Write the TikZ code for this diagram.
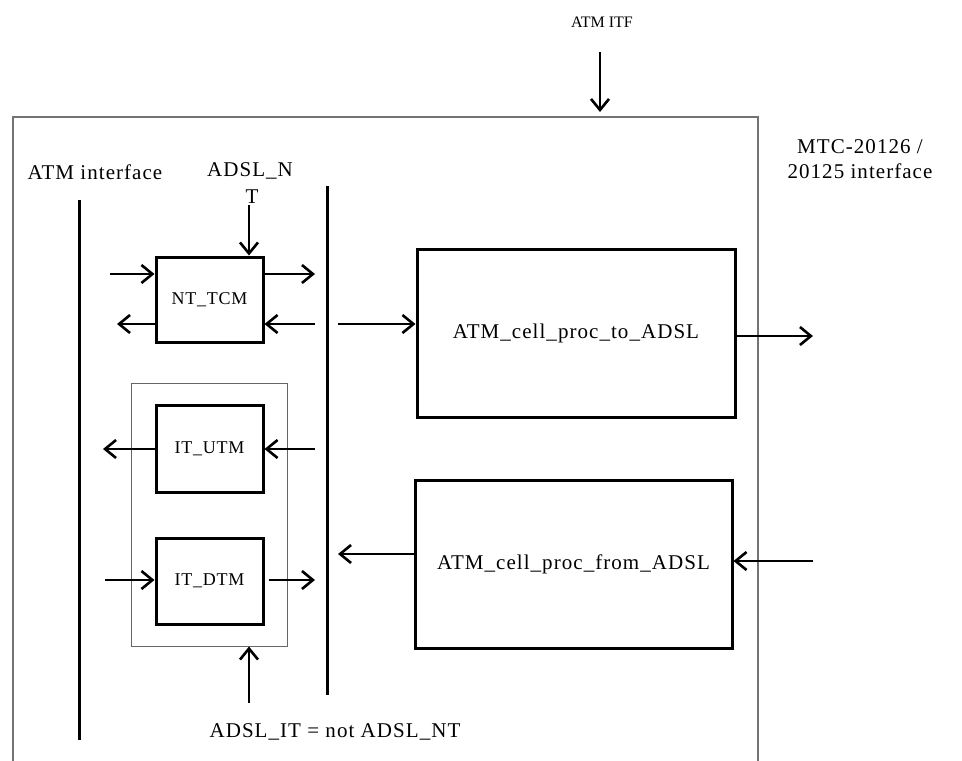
\documentclass[tikz,border=0pt]{standalone}
\usepackage{fontspec}
\setmainfont{Liberation Serif}
\newfontfamily\widefont[LetterSpace=5]{Liberation Serif}
\newfontfamily\boxfont[LetterSpace=4]{Liberation Serif}
\usetikzlibrary{arrows.meta,calc}
\begin{document}
\begin{tikzpicture}[x=1pt,y=-1pt,
  lbl/.style={font=\widefont\fontsize{21}{25}\selectfont, inner sep=0pt},
  blk/.style={draw, line width=3pt, inner sep=0pt, font=\boxfont\fontsize{18}{20}\selectfont},
  bigblk/.style={draw, line width=3pt, inner sep=0pt, font=\widefont\fontsize{21}{25}\selectfont},
  bar/.style={line width=3pt},
  arr/.style={line width=2.6pt, -{Straight Barb[length=11pt,width=18pt,line width=2.6pt]}},
  frame/.style={draw=black!55, line width=1.5pt},
  grp/.style={draw=black!60, line width=1pt}]
\useasboundingbox (0,0) rectangle (962,761);
% outer frame (open at bottom)
\coordinate (fbl) at (13,761);
\coordinate (ftl) at (13,117);
\coordinate (ftr) at (758,117);
\coordinate (fbr) at (758,761);
\draw[frame] (fbl) -- (ftl) -- (ftr) -- (fbr);
% top input
\node[font=\fontsize{16}{18}\selectfont, inner sep=0pt] (atmitf) at (602,22) {ATM ITF};
\coordinate (itfs) at (600,52);
\coordinate (itfe) at (600,112);
\draw[arr] (itfs) -- (itfe);
% right label
\node[lbl, align=center] (mtc) at (860,159) {MTC-20126 /\\20125 interface};
% left labels and bars
\node[lbl] (atmif) at (95,172) {ATM interface};
\node[lbl] (adsln) at (250,171) {ADSL\_N};
\node[lbl] (adslt) at (252,197) {T};
\coordinate (b1t) at (79,200);
\coordinate (b1b) at (79,740);
\draw[bar] (b1t) -- (b1b);
\coordinate (b2t) at (327,186);
\coordinate (b2b) at (327,695);
\draw[bar] (b2t) -- (b2b);
% NT_TCM
\node[blk, minimum width=107pt, minimum height=85pt] (nt) at (209.5,299.5) {NT\_TCM};
\coordinate (ntin) at (249,205);
\draw[arr] (ntin) -- (nt.north -| ntin);
\coordinate (n1) at (110,274);
\coordinate (n2) at (117,324);
\coordinate (n3) at (315,274);
\coordinate (n4) at (315,324);
\draw[arr] (n1) -- (nt.west |- n1);
\draw[arr] (nt.west |- n2) -- (n2);
\draw[arr] (nt.east |- n3) -- (n3);
\draw[arr] (n4) -- (nt.east |- n4);
% ATM_cell_proc_to_ADSL
\node[bigblk, minimum width=318pt, minimum height=168pt] (to) at (576,333) {ATM\_cell\_proc\_to\_ADSL};
\coordinate (t1) at (338,324);
\draw[arr] (t1) -- (to.west |- t1);
\coordinate (t2) at (813,336);
\draw[arr] (to.east |- t2) -- (t2);
% ATM_cell_proc_from_ADSL
\node[bigblk, minimum width=317pt, minimum height=168pt] (from) at (573.5,564) {ATM\_cell\_proc\_from\_ADSL};
\coordinate (f1) at (338,554);
\draw[arr] (from.west |- f1) -- (f1);
\coordinate (f2) at (813,561);
\draw[arr] (f2) -- (from.east |- f2);
% IT group
\node[grp, minimum width=156pt, minimum height=263pt, inner sep=0pt] (grp) at (209,514.5) {};
\node[blk, minimum width=107pt, minimum height=87pt] (utm) at (209.5,448.5) {IT\_UTM};
\coordinate (u1) at (103,449);
\coordinate (u2) at (315,449);
\draw[arr] (utm.west |- u1) -- (u1);
\draw[arr] (u2) -- (utm.east |- u2);
\node[blk, minimum width=107pt, minimum height=86pt] (dtm) at (209.5,581) {IT\_DTM};
\coordinate (d1) at (105,580);
\coordinate (d2) at (315,580);
\draw[arr] (d1) -- (dtm.west |- d1);
\draw[arr] ($(dtm.east |- d2)+(4,0)$) -- (d2);
\coordinate (g1) at (249,703);
\draw[arr] (g1) -- (grp.south -| g1);
\node[lbl] (adslit) at (335,732) {ADSL\_IT = not ADSL\_NT};
\end{tikzpicture}
\end{document}
